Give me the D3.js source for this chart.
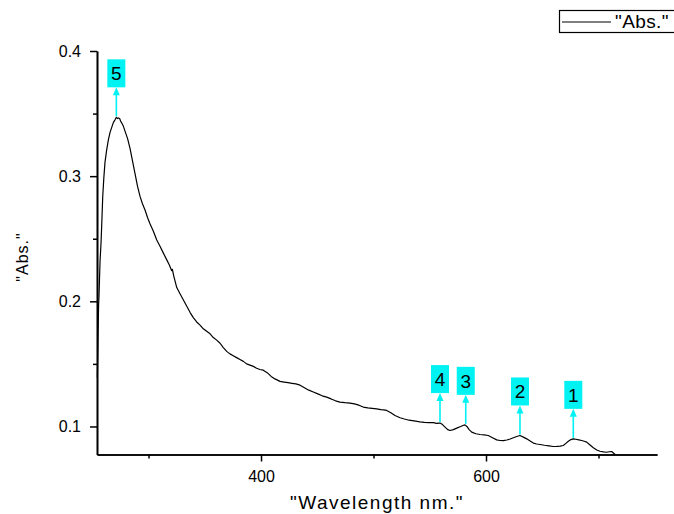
<!DOCTYPE html>
<html>
<head>
<meta charset="utf-8">
<script src="https://cdn.jsdelivr.net/npm/d3@7"></script>
<style>
    body { margin: 0; background: #fff; }
    svg { display: block; }
</style>
</head>
<body>
<div id="chart"></div>
<script>
// spectrum
const wavelength = [
    254.5, 255.0, 255.3, 255.6, 256.0, 256.9, 257.8, 258.6, 259.3, 260.3,
    261.3, 262.8, 264.3, 265.8, 267.3, 268.8, 270.2, 271.4, 272.5, 273.2,
    274.3, 275.2, 276.2, 277.6, 279.1, 281.4, 283.6, 285.8, 288.0, 290.2,
    292.4, 294.6, 296.9, 299.1, 301.3, 304.3, 307.3, 310.2, 313.2, 316.0,
    318.5, 320.6, 321.2, 322.5, 325.1, 328.0, 331.0, 334.0, 337.0, 339.8,
    342.8, 345.8, 348.7, 351.7, 354.7, 357.6, 360.6, 363.6, 366.5, 369.5,
    372.4, 375.3, 378.3, 381.3, 384.3, 387.2, 390.2, 393.2, 396.1, 399.0,
    402.0, 405.5, 409.0, 412.4, 416.9, 420.5, 424.0, 427.5, 431.0, 434.7,
    438.6, 442.5, 446.5, 450.5, 454.4, 458.4, 462.3, 466.2, 470.2, 474.6,
    479.1, 483.0, 487.0, 490.9, 494.9, 498.8, 502.8, 506.5, 509.0, 511.7,
    515.4, 519.1, 523.6, 527.4, 531.6, 536.0, 541.3, 545.3, 549.3, 553.2,
    556.0, 559.1, 561.3, 563.6, 566.0, 568.0, 571.0, 574.0, 577.5, 580.0,
    581.3, 583.0, 585.0, 587.3, 591.0, 594.7, 598.3, 602.0, 605.8, 609.5,
    612.4, 615.4, 618.5, 621.5, 624.3, 627.3, 630.2, 633.2, 636.2, 639.2,
    642.1, 645.0, 648.0, 652.0, 656.0, 659.8, 663.0, 666.0, 668.7, 671.0,
    673.2, 675.5, 677.6, 680.0, 682.5, 685.0, 687.3, 689.5, 692.5, 695.4,
    698.5, 701.3, 704.3, 707.3, 709.5, 711.7, 713.0, 714.7
];
const absorbance = [
    0.139, 0.165, 0.181, 0.196, 0.205, 0.232, 0.247, 0.266, 0.284, 0.299,
    0.311, 0.321, 0.329, 0.335, 0.339, 0.343, 0.345, 0.347, 0.346, 0.3465,
    0.346, 0.344, 0.3425, 0.340, 0.336, 0.330, 0.322, 0.312, 0.302, 0.292,
    0.284, 0.278, 0.273, 0.267, 0.262, 0.256, 0.249, 0.244, 0.2385, 0.2335,
    0.229, 0.2245, 0.2255, 0.220, 0.211, 0.206, 0.201, 0.196, 0.191, 0.187,
    0.1835, 0.181, 0.178, 0.176, 0.174, 0.171, 0.169, 0.1665, 0.163, 0.160,
    0.158, 0.1565, 0.155, 0.1535, 0.152, 0.150, 0.149, 0.148, 0.1465, 0.1455,
    0.145, 0.143, 0.140, 0.138, 0.136, 0.1355, 0.135, 0.1345, 0.134, 0.133,
    0.131, 0.129, 0.1275, 0.126, 0.1245, 0.1234, 0.122, 0.1205, 0.1195, 0.119,
    0.1187, 0.118, 0.117, 0.1155, 0.1148, 0.1145, 0.1141, 0.1135, 0.1132, 0.1128,
    0.111, 0.1088, 0.1070, 0.106, 0.105, 0.1045, 0.1037, 0.1033, 0.1030, 0.1030,
    0.1025, 0.1027, 0.1015, 0.0995, 0.0975, 0.0968, 0.0975, 0.0987, 0.1000, 0.1010,
    0.1013, 0.1000, 0.0975, 0.0955, 0.0942, 0.0936, 0.0933, 0.0928, 0.0910, 0.0893,
    0.0888, 0.0887, 0.0892, 0.0900, 0.0910, 0.0920, 0.0928, 0.0915, 0.0901, 0.0884,
    0.0867, 0.0860, 0.0856, 0.0850, 0.0845, 0.0840, 0.0841, 0.0843, 0.0848, 0.0865,
    0.0882, 0.0895, 0.0901, 0.0898, 0.0893, 0.0888, 0.0882, 0.0875, 0.0852, 0.0830,
    0.0812, 0.0802, 0.0797, 0.0794, 0.0798, 0.0800, 0.0790, 0.0776
];

// peak markers
const peakLabels = ["1", "2", "3", "4", "5"];
const peakWavelength = [677.6, 630.2, 582.0, 559.1, 271.4];
const peakAbsorbance = [0.0901, 0.0928, 0.1013, 0.1027, 0.347];

const xMajorTicks = [400, 600];
const xMinorTicks = [300, 500, 700];
const yMajorTicks = [0.1, 0.2, 0.3, 0.4];
const yMinorTicks = [0.15, 0.25, 0.35];

const seriesName = '"Abs."';
const xTitle = '"Wavelength nm."';
const yTitle = '"Abs."';

const width = 674;
const height = 514;
const margin = { top: 51, right: 17, bottom: 59.5, left: 97 };
const font = "Arial, 'Liberation Sans', sans-serif";
const cyan = "#00f2f2";

const data = wavelength.map((w, i) => ({ w: w, a: absorbance[i] }));

const x = d3.scaleLinear()
    .domain([254.2, 752])
    .range([margin.left, width - margin.right]);

const y = d3.scaleLinear()
    .domain([0.0776, 0.4])
    .range([height - margin.bottom, margin.top]);

const svg = d3.select("#chart")
    .append("svg")
    .attr("width", width)
    .attr("height", height)
    .style("font-family", font);

// axes
const styleAxis = (g, labels) => {
    g.select(".domain").attr("stroke-width", 1.6);
    g.selectAll(".tick line").attr("stroke-width", 1.5);
    g.selectAll(".tick text")
        .style("font-size", "16px")
        .attr("fill", "#000");
    if (!labels) g.selectAll(".tick text").remove();
};

svg.append("g")
    .attr("transform", `translate(0,${height - margin.bottom})`)
    .call(d3.axisBottom(x).tickValues(xMinorTicks).tickSize(4).tickSizeOuter(0))
    .call(g => styleAxis(g, false));

svg.append("g")
    .attr("transform", `translate(0,${height - margin.bottom})`)
    .call(d3.axisBottom(x).tickValues(xMajorTicks).tickSize(7).tickSizeOuter(0)
        .tickPadding(9).tickFormat(d3.format("d")))
    .call(g => styleAxis(g, true));

svg.append("g")
    .attr("transform", `translate(${margin.left},0)`)
    .call(d3.axisLeft(y).tickValues(yMinorTicks).tickSize(4).tickSizeOuter(0))
    .call(g => styleAxis(g, false));

svg.append("g")
    .attr("transform", `translate(${margin.left},0)`)
    .call(d3.axisLeft(y).tickValues(yMajorTicks).tickSize(7).tickSizeOuter(0)
        .tickPadding(9).tickFormat(d3.format(".1f")))
    .call(g => styleAxis(g, true));

// titles
svg.append("text")
    .attr("x", (margin.left + width - margin.right) / 2)
    .attr("y", 509)
    .attr("text-anchor", "middle")
    .style("font-size", "19px")
    .style("letter-spacing", "1.5px")
    .text(xTitle);

svg.append("text")
    .attr("transform", "translate(28,257) rotate(-90)")
    .attr("text-anchor", "middle")
    .style("font-size", "16px")
    .style("letter-spacing", "1px")
    .text(yTitle);

// spectrum
const line = d3.line()
    .x(d => x(d.w))
    .y(d => y(d.a));

svg.append("path")
    .datum(data)
    .attr("fill", "none")
    .attr("stroke", "#000")
    .attr("stroke-width", 1.2)
    .attr("stroke-linejoin", "round")
    .attr("d", line);

// peak labels with arrows
const arrowLen = 30;
const peaks = svg.selectAll(".peak")
    .data(peakLabels.map((l, i) => ({ label: l, w: peakWavelength[i], a: peakAbsorbance[i] })))
    .enter().append("g")
    .attr("class", "peak");

peaks.append("line")
    .attr("x1", d => x(d.w))
    .attr("x2", d => x(d.w))
    .attr("y1", d => y(d.a) - 1)
    .attr("y2", d => y(d.a) - arrowLen + 6)
    .attr("stroke", cyan)
    .attr("stroke-width", 1.6);

peaks.append("path")
    .attr("d", d => {
        const px = x(d.w), top = y(d.a) - arrowLen;
        return `M${px},${top}L${px - 3.5},${top + 8}L${px + 3.5},${top + 8}Z`;
    })
    .attr("fill", cyan);

peaks.append("rect")
    .attr("x", d => x(d.w) - 9)
    .attr("y", d => y(d.a) - arrowLen - 28)
    .attr("width", 18)
    .attr("height", 28)
    .attr("fill", cyan);

peaks.append("text")
    .attr("x", d => x(d.w))
    .attr("y", d => y(d.a) - arrowLen - 7)
    .attr("text-anchor", "middle")
    .style("font-size", "19px")
    .text(d => d.label);

// legend
const legend = svg.append("g");
legend.append("rect")
    .attr("x", 559.5)
    .attr("y", 10.5)
    .attr("width", 120)
    .attr("height", 22)
    .attr("fill", "#fff")
    .attr("stroke", "#000")
    .attr("stroke-width", 1.2);
legend.append("line")
    .attr("x1", 562)
    .attr("x2", 611)
    .attr("y1", 22)
    .attr("y2", 22)
    .attr("stroke", "#000")
    .attr("stroke-width", 1.2);
legend.append("text")
    .attr("x", 615)
    .attr("y", 28)
    .style("font-size", "19px")
    .style("letter-spacing", "0.4px")
    .text(seriesName);
</script>
</body>
</html>
